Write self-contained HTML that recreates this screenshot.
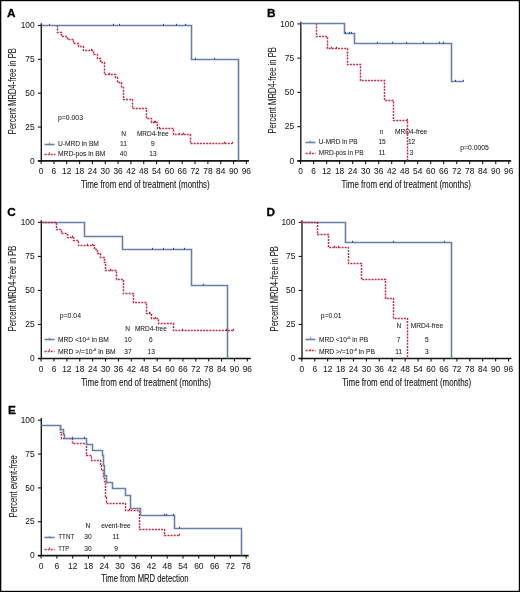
<!DOCTYPE html>
<html><head><meta charset="utf-8"><title>Figure</title>
<style>
html,body{margin:0;padding:0;background:#fff;}
body{width:520px;height:592px;overflow:hidden;}
svg{display:block;will-change:transform;}
svg text{font-family:"Liberation Sans", sans-serif;fill:#1a1a1a;stroke:#1a1a1a;stroke-width:0.05px;}
.t{stroke:#1a1a1a;stroke-width:0.12px;}
.L{stroke:#000;stroke-width:0.3px;fill:#000;}
</style></head>
<body>
<svg width="520" height="592" viewBox="0 0 520 592">
<rect x="0" y="0" width="520" height="592" fill="#fff"/>
<rect x="0" y="0" width="1.3" height="592" fill="#000"/>
<rect x="0" y="0" width="520" height="1.2" fill="#000"/>
<rect x="518.8" y="0" width="1.2" height="592" fill="#000"/>
<rect x="0" y="590.8" width="520" height="1.2" fill="#000"/>
<text x="7.00" y="17.00" font-size="11.8" font-weight="bold" class="L">A</text>
<line x1="41.30" y1="23.30" x2="41.30" y2="161.60" stroke="#161616" stroke-width="1.35"/>
<line x1="37.90" y1="160.90" x2="249.00" y2="160.90" stroke="#161616" stroke-width="1.6"/>
<line x1="37.90" y1="25.50" x2="41.10" y2="25.50" stroke="#161616" stroke-width="1.1"/>
<text x="34.70" y="28.10" font-size="8.4" text-anchor="end" >100</text>
<line x1="37.90" y1="59.35" x2="41.10" y2="59.35" stroke="#161616" stroke-width="1.1"/>
<text x="34.70" y="61.95" font-size="8.4" text-anchor="end" >75</text>
<line x1="37.90" y1="93.20" x2="41.10" y2="93.20" stroke="#161616" stroke-width="1.1"/>
<text x="34.70" y="95.80" font-size="8.4" text-anchor="end" >50</text>
<line x1="37.90" y1="127.05" x2="41.10" y2="127.05" stroke="#161616" stroke-width="1.1"/>
<text x="34.70" y="129.65" font-size="8.4" text-anchor="end" >25</text>
<line x1="37.90" y1="160.90" x2="41.10" y2="160.90" stroke="#161616" stroke-width="1.1"/>
<text x="34.70" y="163.50" font-size="8.4" text-anchor="end" >0</text>
<line x1="41.10" y1="160.90" x2="41.10" y2="163.90" stroke="#161616" stroke-width="1.1"/>
<text x="41.10" y="173.90" font-size="8.4" text-anchor="middle" >0</text>
<line x1="53.93" y1="160.90" x2="53.93" y2="163.90" stroke="#161616" stroke-width="1.1"/>
<text x="53.93" y="173.90" font-size="8.4" text-anchor="middle" >6</text>
<line x1="66.76" y1="160.90" x2="66.76" y2="163.90" stroke="#161616" stroke-width="1.1"/>
<text x="66.76" y="173.90" font-size="8.4" text-anchor="middle" >12</text>
<line x1="79.59" y1="160.90" x2="79.59" y2="163.90" stroke="#161616" stroke-width="1.1"/>
<text x="79.59" y="173.90" font-size="8.4" text-anchor="middle" >18</text>
<line x1="92.42" y1="160.90" x2="92.42" y2="163.90" stroke="#161616" stroke-width="1.1"/>
<text x="92.42" y="173.90" font-size="8.4" text-anchor="middle" >24</text>
<line x1="105.25" y1="160.90" x2="105.25" y2="163.90" stroke="#161616" stroke-width="1.1"/>
<text x="105.25" y="173.90" font-size="8.4" text-anchor="middle" >30</text>
<line x1="118.08" y1="160.90" x2="118.08" y2="163.90" stroke="#161616" stroke-width="1.1"/>
<text x="118.08" y="173.90" font-size="8.4" text-anchor="middle" >36</text>
<line x1="130.91" y1="160.90" x2="130.91" y2="163.90" stroke="#161616" stroke-width="1.1"/>
<text x="130.91" y="173.90" font-size="8.4" text-anchor="middle" >42</text>
<line x1="143.74" y1="160.90" x2="143.74" y2="163.90" stroke="#161616" stroke-width="1.1"/>
<text x="143.74" y="173.90" font-size="8.4" text-anchor="middle" >48</text>
<line x1="156.57" y1="160.90" x2="156.57" y2="163.90" stroke="#161616" stroke-width="1.1"/>
<text x="156.57" y="173.90" font-size="8.4" text-anchor="middle" >54</text>
<line x1="169.40" y1="160.90" x2="169.40" y2="163.90" stroke="#161616" stroke-width="1.1"/>
<text x="169.40" y="173.90" font-size="8.4" text-anchor="middle" >60</text>
<line x1="182.23" y1="160.90" x2="182.23" y2="163.90" stroke="#161616" stroke-width="1.1"/>
<text x="182.23" y="173.90" font-size="8.4" text-anchor="middle" >66</text>
<line x1="195.06" y1="160.90" x2="195.06" y2="163.90" stroke="#161616" stroke-width="1.1"/>
<text x="195.06" y="173.90" font-size="8.4" text-anchor="middle" >72</text>
<line x1="207.89" y1="160.90" x2="207.89" y2="163.90" stroke="#161616" stroke-width="1.1"/>
<text x="207.89" y="173.90" font-size="8.4" text-anchor="middle" >78</text>
<line x1="220.72" y1="160.90" x2="220.72" y2="163.90" stroke="#161616" stroke-width="1.1"/>
<text x="220.72" y="173.90" font-size="8.4" text-anchor="middle" >84</text>
<line x1="233.55" y1="160.90" x2="233.55" y2="163.90" stroke="#161616" stroke-width="1.1"/>
<text x="233.55" y="173.90" font-size="8.4" text-anchor="middle" >90</text>
<line x1="246.38" y1="160.90" x2="246.38" y2="163.90" stroke="#161616" stroke-width="1.1"/>
<text x="246.38" y="173.90" font-size="8.4" text-anchor="middle" >96</text>
<text transform="translate(16.30,91.20) rotate(-90)" x="0" y="0" font-size="10.2" text-anchor="middle" textLength="86.00" lengthAdjust="spacingAndGlyphs">Percent MRD4-free in PB</text>
<text x="80.90" y="187.50" font-size="10.2" textLength="128.80" lengthAdjust="spacingAndGlyphs" class="t">Time from end of treatment (months)</text>
<text x="58.00" y="119.60" font-size="6.6" textLength="25.00" lengthAdjust="spacingAndGlyphs" >p=0.003</text>
<text x="123.60" y="136.20" font-size="6.6" text-anchor="middle" >N</text>
<text x="136.90" y="136.20" font-size="6.6" textLength="31.80" lengthAdjust="spacingAndGlyphs" >MRD4-free</text>
<text x="57.90" y="146.10" font-size="6.6" textLength="41.00" lengthAdjust="spacingAndGlyphs" >U-MRD in BM</text>
<text x="123.40" y="146.10" font-size="6.6" text-anchor="middle" >11</text>
<text x="152.90" y="146.10" font-size="6.6" text-anchor="middle" >9</text>
<text x="57.90" y="155.90" font-size="6.6" textLength="47.60" lengthAdjust="spacingAndGlyphs" >MRD-pos in BM</text>
<text x="123.40" y="155.90" font-size="6.6" text-anchor="middle" >40</text>
<text x="152.90" y="155.90" font-size="6.6" text-anchor="middle" >13</text>
<polyline points="44.50,144.50 54.50,144.50" fill="none" stroke="#6680aa" stroke-width="1.6" stroke-linejoin="miter" stroke-linecap="butt"/>
<line x1="49.45" y1="142.60" x2="49.45" y2="144.60" stroke="#6680aa" stroke-width="0.9"/>
<polyline points="44.50,154.50 55.50,154.50" fill="none" stroke="#be2d4b" stroke-width="1.5" stroke-dasharray="2.0 1.1" stroke-linejoin="miter" stroke-linecap="butt"/>
<line x1="49.55" y1="152.20" x2="49.55" y2="154.20" stroke="#be2d4b" stroke-width="0.9"/>
<polyline points="57.50,25.50 57.50,32.50 61.50,32.50 61.50,36.50 67.50,36.50 67.50,39.50 73.50,39.50 73.50,43.50 78.50,43.50 78.50,46.50 83.50,46.50 83.50,50.50 93.50,50.50 93.50,54.50 97.50,54.50 97.50,58.50 100.50,58.50 100.50,62.50 104.50,62.50 104.50,67.50 104.50,67.50 104.50,74.50 115.50,74.50 115.50,77.50 117.50,77.50 117.50,82.50 121.50,82.50 121.50,87.50 123.50,87.50 123.50,99.50 132.50,99.50 132.50,108.50 146.50,108.50 146.50,118.50 151.50,118.50 151.50,122.50 157.50,122.50 157.50,128.50 173.50,128.50 173.50,134.50 190.50,134.50 190.50,143.50 232.50,143.50" fill="none" stroke="#be2d4b" stroke-width="1.5" stroke-dasharray="2.0 1.1" stroke-linejoin="miter" stroke-linecap="butt"/>
<line x1="49.50" y1="23.80" x2="49.50" y2="25.50" stroke="#a0102f" stroke-width="1.1"/>
<line x1="91.50" y1="48.80" x2="91.50" y2="50.50" stroke="#a0102f" stroke-width="1.1"/>
<line x1="109.50" y1="72.80" x2="109.50" y2="74.50" stroke="#a0102f" stroke-width="1.1"/>
<line x1="154.50" y1="120.80" x2="154.50" y2="122.50" stroke="#a0102f" stroke-width="1.1"/>
<line x1="155.50" y1="120.80" x2="155.50" y2="122.50" stroke="#a0102f" stroke-width="1.1"/>
<line x1="159.50" y1="126.80" x2="159.50" y2="128.50" stroke="#a0102f" stroke-width="1.1"/>
<line x1="179.50" y1="132.80" x2="179.50" y2="134.50" stroke="#a0102f" stroke-width="1.1"/>
<line x1="183.50" y1="132.80" x2="183.50" y2="134.50" stroke="#a0102f" stroke-width="1.1"/>
<line x1="224.50" y1="141.80" x2="224.50" y2="143.50" stroke="#a0102f" stroke-width="1.1"/>
<line x1="232.50" y1="141.80" x2="232.50" y2="143.50" stroke="#a0102f" stroke-width="1.1"/>
<polyline points="41.50,25.50 191.50,25.50 191.50,59.50 238.50,59.50 238.50,160.50" fill="none" stroke="#6680aa" stroke-width="1.6" stroke-linejoin="miter" stroke-linecap="butt"/>
<line x1="113.50" y1="23.80" x2="113.50" y2="25.50" stroke="#2b4580" stroke-width="1.1"/>
<line x1="119.50" y1="23.80" x2="119.50" y2="25.50" stroke="#2b4580" stroke-width="1.1"/>
<line x1="163.50" y1="23.80" x2="163.50" y2="25.50" stroke="#2b4580" stroke-width="1.1"/>
<line x1="176.50" y1="23.80" x2="176.50" y2="25.50" stroke="#2b4580" stroke-width="1.1"/>
<line x1="185.50" y1="23.80" x2="185.50" y2="25.50" stroke="#2b4580" stroke-width="1.1"/>
<line x1="195.50" y1="57.80" x2="195.50" y2="59.50" stroke="#2b4580" stroke-width="1.1"/>
<line x1="214.50" y1="57.80" x2="214.50" y2="59.50" stroke="#2b4580" stroke-width="1.1"/>
<text x="266.90" y="17.00" font-size="11.8" font-weight="bold" class="L">B</text>
<line x1="300.80" y1="21.70" x2="300.80" y2="161.60" stroke="#161616" stroke-width="1.35"/>
<line x1="297.40" y1="160.90" x2="511.20" y2="160.90" stroke="#161616" stroke-width="1.6"/>
<line x1="297.40" y1="23.90" x2="300.60" y2="23.90" stroke="#161616" stroke-width="1.1"/>
<text x="294.20" y="26.50" font-size="8.4" text-anchor="end" >100</text>
<line x1="297.40" y1="58.15" x2="300.60" y2="58.15" stroke="#161616" stroke-width="1.1"/>
<text x="294.20" y="60.75" font-size="8.4" text-anchor="end" >75</text>
<line x1="297.40" y1="92.40" x2="300.60" y2="92.40" stroke="#161616" stroke-width="1.1"/>
<text x="294.20" y="95.00" font-size="8.4" text-anchor="end" >50</text>
<line x1="297.40" y1="126.65" x2="300.60" y2="126.65" stroke="#161616" stroke-width="1.1"/>
<text x="294.20" y="129.25" font-size="8.4" text-anchor="end" >25</text>
<line x1="297.40" y1="160.90" x2="300.60" y2="160.90" stroke="#161616" stroke-width="1.1"/>
<text x="294.20" y="163.50" font-size="8.4" text-anchor="end" >0</text>
<line x1="300.60" y1="160.90" x2="300.60" y2="163.90" stroke="#161616" stroke-width="1.1"/>
<text x="300.60" y="173.90" font-size="8.4" text-anchor="middle" >0</text>
<line x1="313.61" y1="160.90" x2="313.61" y2="163.90" stroke="#161616" stroke-width="1.1"/>
<text x="313.61" y="173.90" font-size="8.4" text-anchor="middle" >6</text>
<line x1="326.62" y1="160.90" x2="326.62" y2="163.90" stroke="#161616" stroke-width="1.1"/>
<text x="326.62" y="173.90" font-size="8.4" text-anchor="middle" >12</text>
<line x1="339.63" y1="160.90" x2="339.63" y2="163.90" stroke="#161616" stroke-width="1.1"/>
<text x="339.63" y="173.90" font-size="8.4" text-anchor="middle" >18</text>
<line x1="352.64" y1="160.90" x2="352.64" y2="163.90" stroke="#161616" stroke-width="1.1"/>
<text x="352.64" y="173.90" font-size="8.4" text-anchor="middle" >24</text>
<line x1="365.65" y1="160.90" x2="365.65" y2="163.90" stroke="#161616" stroke-width="1.1"/>
<text x="365.65" y="173.90" font-size="8.4" text-anchor="middle" >30</text>
<line x1="378.66" y1="160.90" x2="378.66" y2="163.90" stroke="#161616" stroke-width="1.1"/>
<text x="378.66" y="173.90" font-size="8.4" text-anchor="middle" >36</text>
<line x1="391.67" y1="160.90" x2="391.67" y2="163.90" stroke="#161616" stroke-width="1.1"/>
<text x="391.67" y="173.90" font-size="8.4" text-anchor="middle" >42</text>
<line x1="404.68" y1="160.90" x2="404.68" y2="163.90" stroke="#161616" stroke-width="1.1"/>
<text x="404.68" y="173.90" font-size="8.4" text-anchor="middle" >48</text>
<line x1="417.69" y1="160.90" x2="417.69" y2="163.90" stroke="#161616" stroke-width="1.1"/>
<text x="417.69" y="173.90" font-size="8.4" text-anchor="middle" >54</text>
<line x1="430.70" y1="160.90" x2="430.70" y2="163.90" stroke="#161616" stroke-width="1.1"/>
<text x="430.70" y="173.90" font-size="8.4" text-anchor="middle" >60</text>
<line x1="443.71" y1="160.90" x2="443.71" y2="163.90" stroke="#161616" stroke-width="1.1"/>
<text x="443.71" y="173.90" font-size="8.4" text-anchor="middle" >66</text>
<line x1="456.72" y1="160.90" x2="456.72" y2="163.90" stroke="#161616" stroke-width="1.1"/>
<text x="456.72" y="173.90" font-size="8.4" text-anchor="middle" >72</text>
<line x1="469.73" y1="160.90" x2="469.73" y2="163.90" stroke="#161616" stroke-width="1.1"/>
<text x="469.73" y="173.90" font-size="8.4" text-anchor="middle" >78</text>
<line x1="482.74" y1="160.90" x2="482.74" y2="163.90" stroke="#161616" stroke-width="1.1"/>
<text x="482.74" y="173.90" font-size="8.4" text-anchor="middle" >84</text>
<line x1="495.75" y1="160.90" x2="495.75" y2="163.90" stroke="#161616" stroke-width="1.1"/>
<text x="495.75" y="173.90" font-size="8.4" text-anchor="middle" >90</text>
<line x1="508.76" y1="160.90" x2="508.76" y2="163.90" stroke="#161616" stroke-width="1.1"/>
<text x="508.76" y="173.90" font-size="8.4" text-anchor="middle" >96</text>
<text transform="translate(275.80,90.30) rotate(-90)" x="0" y="0" font-size="10.2" text-anchor="middle" textLength="86.50" lengthAdjust="spacingAndGlyphs">Percent MRD4-free in PB</text>
<text x="341.50" y="187.50" font-size="10.2" textLength="129.30" lengthAdjust="spacingAndGlyphs" class="t">Time from end of treatment (months)</text>
<text x="460.30" y="150.40" font-size="6.6" textLength="28.60" lengthAdjust="spacingAndGlyphs" >p=0.0005</text>
<text x="381.70" y="134.00" font-size="6.6" text-anchor="middle" >n</text>
<text x="395.00" y="134.00" font-size="6.6" textLength="32.30" lengthAdjust="spacingAndGlyphs" >MRD4-free</text>
<text x="318.80" y="143.50" font-size="6.6" textLength="38.90" lengthAdjust="spacingAndGlyphs" >U-MRD in PB</text>
<text x="382.10" y="143.50" font-size="6.6" text-anchor="middle" >15</text>
<text x="411.60" y="143.50" font-size="6.6" text-anchor="middle" >12</text>
<text x="318.80" y="154.80" font-size="6.6" textLength="44.70" lengthAdjust="spacingAndGlyphs" >MRD-pos in PB</text>
<text x="382.00" y="154.80" font-size="6.6" text-anchor="middle" >11</text>
<text x="411.30" y="154.80" font-size="6.6" text-anchor="middle" >3</text>
<polyline points="305.50,142.50 315.50,142.50" fill="none" stroke="#6680aa" stroke-width="1.6" stroke-linejoin="miter" stroke-linecap="butt"/>
<line x1="310.40" y1="140.40" x2="310.40" y2="142.40" stroke="#6680aa" stroke-width="0.9"/>
<polyline points="305.50,153.50 315.50,153.50" fill="none" stroke="#be2d4b" stroke-width="1.5" stroke-dasharray="2.0 1.1" stroke-linejoin="miter" stroke-linecap="butt"/>
<line x1="310.40" y1="151.10" x2="310.40" y2="153.10" stroke="#be2d4b" stroke-width="0.9"/>
<polyline points="316.50,23.50 316.50,36.50 327.50,36.50 327.50,48.50 347.50,48.50 347.50,64.50 360.50,64.50 360.50,80.50 384.50,80.50 384.50,100.50 393.50,100.50 393.50,120.50 407.50,120.50 407.50,160.50" fill="none" stroke="#be2d4b" stroke-width="1.5" stroke-dasharray="2.0 1.1" stroke-linejoin="miter" stroke-linecap="butt"/>
<line x1="331.50" y1="46.80" x2="331.50" y2="48.50" stroke="#a0102f" stroke-width="1.1"/>
<line x1="336.50" y1="46.80" x2="336.50" y2="48.50" stroke="#a0102f" stroke-width="1.1"/>
<line x1="407.50" y1="118.80" x2="407.50" y2="120.50" stroke="#a0102f" stroke-width="1.1"/>
<polyline points="300.50,23.50 344.50,23.50 344.50,33.50 354.50,33.50 354.50,43.50 451.50,43.50 451.50,81.50 463.50,81.50" fill="none" stroke="#6680aa" stroke-width="1.6" stroke-linejoin="miter" stroke-linecap="butt"/>
<line x1="345.50" y1="31.80" x2="345.50" y2="33.50" stroke="#2b4580" stroke-width="1.1"/>
<line x1="349.50" y1="31.80" x2="349.50" y2="33.50" stroke="#2b4580" stroke-width="1.1"/>
<line x1="351.50" y1="31.80" x2="351.50" y2="33.50" stroke="#2b4580" stroke-width="1.1"/>
<line x1="377.50" y1="41.80" x2="377.50" y2="43.50" stroke="#2b4580" stroke-width="1.1"/>
<line x1="392.50" y1="41.80" x2="392.50" y2="43.50" stroke="#2b4580" stroke-width="1.1"/>
<line x1="406.50" y1="41.80" x2="406.50" y2="43.50" stroke="#2b4580" stroke-width="1.1"/>
<line x1="423.50" y1="41.80" x2="423.50" y2="43.50" stroke="#2b4580" stroke-width="1.1"/>
<line x1="439.50" y1="41.80" x2="439.50" y2="43.50" stroke="#2b4580" stroke-width="1.1"/>
<line x1="443.50" y1="41.80" x2="443.50" y2="43.50" stroke="#2b4580" stroke-width="1.1"/>
<line x1="455.50" y1="79.80" x2="455.50" y2="81.50" stroke="#2b4580" stroke-width="1.1"/>
<line x1="463.50" y1="79.80" x2="463.50" y2="81.50" stroke="#2b4580" stroke-width="1.1"/>
<text x="7.30" y="215.80" font-size="11.8" font-weight="bold" class="L">C</text>
<line x1="41.30" y1="220.20" x2="41.30" y2="359.20" stroke="#161616" stroke-width="1.35"/>
<line x1="37.90" y1="358.50" x2="250.80" y2="358.50" stroke="#161616" stroke-width="1.6"/>
<line x1="37.90" y1="222.40" x2="41.10" y2="222.40" stroke="#161616" stroke-width="1.1"/>
<text x="34.70" y="225.00" font-size="8.4" text-anchor="end" >100</text>
<line x1="37.90" y1="256.43" x2="41.10" y2="256.43" stroke="#161616" stroke-width="1.1"/>
<text x="34.70" y="259.03" font-size="8.4" text-anchor="end" >75</text>
<line x1="37.90" y1="290.45" x2="41.10" y2="290.45" stroke="#161616" stroke-width="1.1"/>
<text x="34.70" y="293.05" font-size="8.4" text-anchor="end" >50</text>
<line x1="37.90" y1="324.48" x2="41.10" y2="324.48" stroke="#161616" stroke-width="1.1"/>
<text x="34.70" y="327.08" font-size="8.4" text-anchor="end" >25</text>
<line x1="37.90" y1="358.50" x2="41.10" y2="358.50" stroke="#161616" stroke-width="1.1"/>
<text x="34.70" y="361.10" font-size="8.4" text-anchor="end" >0</text>
<line x1="41.10" y1="358.50" x2="41.10" y2="361.50" stroke="#161616" stroke-width="1.1"/>
<text x="41.10" y="371.50" font-size="8.4" text-anchor="middle" >0</text>
<line x1="53.99" y1="358.50" x2="53.99" y2="361.50" stroke="#161616" stroke-width="1.1"/>
<text x="53.99" y="371.50" font-size="8.4" text-anchor="middle" >6</text>
<line x1="66.88" y1="358.50" x2="66.88" y2="361.50" stroke="#161616" stroke-width="1.1"/>
<text x="66.88" y="371.50" font-size="8.4" text-anchor="middle" >12</text>
<line x1="79.77" y1="358.50" x2="79.77" y2="361.50" stroke="#161616" stroke-width="1.1"/>
<text x="79.77" y="371.50" font-size="8.4" text-anchor="middle" >18</text>
<line x1="92.66" y1="358.50" x2="92.66" y2="361.50" stroke="#161616" stroke-width="1.1"/>
<text x="92.66" y="371.50" font-size="8.4" text-anchor="middle" >24</text>
<line x1="105.55" y1="358.50" x2="105.55" y2="361.50" stroke="#161616" stroke-width="1.1"/>
<text x="105.55" y="371.50" font-size="8.4" text-anchor="middle" >30</text>
<line x1="118.44" y1="358.50" x2="118.44" y2="361.50" stroke="#161616" stroke-width="1.1"/>
<text x="118.44" y="371.50" font-size="8.4" text-anchor="middle" >36</text>
<line x1="131.33" y1="358.50" x2="131.33" y2="361.50" stroke="#161616" stroke-width="1.1"/>
<text x="131.33" y="371.50" font-size="8.4" text-anchor="middle" >42</text>
<line x1="144.22" y1="358.50" x2="144.22" y2="361.50" stroke="#161616" stroke-width="1.1"/>
<text x="144.22" y="371.50" font-size="8.4" text-anchor="middle" >48</text>
<line x1="157.11" y1="358.50" x2="157.11" y2="361.50" stroke="#161616" stroke-width="1.1"/>
<text x="157.11" y="371.50" font-size="8.4" text-anchor="middle" >54</text>
<line x1="170.00" y1="358.50" x2="170.00" y2="361.50" stroke="#161616" stroke-width="1.1"/>
<text x="170.00" y="371.50" font-size="8.4" text-anchor="middle" >60</text>
<line x1="182.89" y1="358.50" x2="182.89" y2="361.50" stroke="#161616" stroke-width="1.1"/>
<text x="182.89" y="371.50" font-size="8.4" text-anchor="middle" >66</text>
<line x1="195.78" y1="358.50" x2="195.78" y2="361.50" stroke="#161616" stroke-width="1.1"/>
<text x="195.78" y="371.50" font-size="8.4" text-anchor="middle" >72</text>
<line x1="208.67" y1="358.50" x2="208.67" y2="361.50" stroke="#161616" stroke-width="1.1"/>
<text x="208.67" y="371.50" font-size="8.4" text-anchor="middle" >78</text>
<line x1="221.56" y1="358.50" x2="221.56" y2="361.50" stroke="#161616" stroke-width="1.1"/>
<text x="221.56" y="371.50" font-size="8.4" text-anchor="middle" >84</text>
<line x1="234.45" y1="358.50" x2="234.45" y2="361.50" stroke="#161616" stroke-width="1.1"/>
<text x="234.45" y="371.50" font-size="8.4" text-anchor="middle" >90</text>
<line x1="247.34" y1="358.50" x2="247.34" y2="361.50" stroke="#161616" stroke-width="1.1"/>
<text x="247.34" y="371.50" font-size="8.4" text-anchor="middle" >96</text>
<text transform="translate(16.30,288.50) rotate(-90)" x="0" y="0" font-size="10.2" text-anchor="middle" textLength="85.70" lengthAdjust="spacingAndGlyphs">Percent MRD4-free in PB</text>
<text x="81.20" y="386.20" font-size="10.2" textLength="129.60" lengthAdjust="spacingAndGlyphs" class="t">Time from end of treatment (months)</text>
<text x="59.80" y="317.80" font-size="6.6" textLength="21.20" lengthAdjust="spacingAndGlyphs" >p=0.04</text>
<text x="127.60" y="330.70" font-size="6.6" text-anchor="middle" >N</text>
<text x="134.90" y="330.70" font-size="6.6" textLength="32.00" lengthAdjust="spacingAndGlyphs" >MRD4-free</text>
<text x="57.90" y="342.20" font-size="6.6" textLength="50.80" lengthAdjust="spacingAndGlyphs" >MRD &lt;10<tspan font-size="4" dy="-2.6">-6</tspan><tspan dy="2.6"> in BM</tspan></text>
<text x="128.00" y="342.20" font-size="6.6" text-anchor="middle" >10</text>
<text x="150.80" y="342.20" font-size="6.6" text-anchor="middle" >6</text>
<text x="57.90" y="353.60" font-size="6.6" textLength="57.70" lengthAdjust="spacingAndGlyphs" >MRD &gt;/=10<tspan font-size="4" dy="-2.6">-6</tspan><tspan dy="2.6"> in BM</tspan></text>
<text x="128.00" y="353.60" font-size="6.6" text-anchor="middle" >37</text>
<text x="151.20" y="353.60" font-size="6.6" text-anchor="middle" >13</text>
<polyline points="44.50,339.50 54.50,339.50" fill="none" stroke="#6680aa" stroke-width="1.6" stroke-linejoin="miter" stroke-linecap="butt"/>
<line x1="49.40" y1="337.40" x2="49.40" y2="339.40" stroke="#6680aa" stroke-width="0.9"/>
<polyline points="44.50,351.50 54.50,351.50" fill="none" stroke="#be2d4b" stroke-width="1.5" stroke-dasharray="2.0 1.1" stroke-linejoin="miter" stroke-linecap="butt"/>
<line x1="49.40" y1="349.00" x2="49.40" y2="351.00" stroke="#be2d4b" stroke-width="0.9"/>
<polyline points="41.50,222.50 84.50,222.50 84.50,236.50 122.50,236.50 122.50,249.50 191.50,249.50 191.50,285.50 227.50,285.50 227.50,358.50" fill="none" stroke="#6680aa" stroke-width="1.6" stroke-linejoin="miter" stroke-linecap="butt"/>
<line x1="152.50" y1="247.80" x2="152.50" y2="249.50" stroke="#2b4580" stroke-width="1.1"/>
<line x1="163.50" y1="247.80" x2="163.50" y2="249.50" stroke="#2b4580" stroke-width="1.1"/>
<line x1="173.50" y1="247.80" x2="173.50" y2="249.50" stroke="#2b4580" stroke-width="1.1"/>
<line x1="184.50" y1="247.80" x2="184.50" y2="249.50" stroke="#2b4580" stroke-width="1.1"/>
<line x1="203.50" y1="283.80" x2="203.50" y2="285.50" stroke="#2b4580" stroke-width="1.1"/>
<polyline points="41.50,222.50 56.50,222.50 56.50,229.50 61.50,229.50 61.50,233.50 67.50,233.50 67.50,237.50 73.50,237.50 73.50,240.50 78.50,240.50 78.50,245.50 94.50,245.50 94.50,249.50 97.50,249.50 97.50,253.50 100.50,253.50 100.50,257.50 104.50,257.50 104.50,262.50 105.50,262.50 105.50,270.50 116.50,270.50 116.50,279.50 123.50,279.50 123.50,293.50 133.50,293.50 133.50,302.50 146.50,302.50 146.50,313.50 151.50,313.50 151.50,318.50 158.50,318.50 158.50,323.50 173.50,323.50 173.50,330.50 233.50,330.50" fill="none" stroke="#be2d4b" stroke-width="1.5" stroke-dasharray="2.0 1.1" stroke-linejoin="miter" stroke-linecap="butt"/>
<line x1="72.50" y1="235.80" x2="72.50" y2="237.50" stroke="#a0102f" stroke-width="1.1"/>
<line x1="87.50" y1="243.80" x2="87.50" y2="245.50" stroke="#a0102f" stroke-width="1.1"/>
<line x1="92.50" y1="243.80" x2="92.50" y2="245.50" stroke="#a0102f" stroke-width="1.1"/>
<line x1="110.50" y1="268.80" x2="110.50" y2="270.50" stroke="#a0102f" stroke-width="1.1"/>
<line x1="149.50" y1="311.80" x2="149.50" y2="313.50" stroke="#a0102f" stroke-width="1.1"/>
<line x1="155.50" y1="316.80" x2="155.50" y2="318.50" stroke="#a0102f" stroke-width="1.1"/>
<line x1="182.50" y1="328.80" x2="182.50" y2="330.50" stroke="#a0102f" stroke-width="1.1"/>
<line x1="226.50" y1="328.80" x2="226.50" y2="330.50" stroke="#a0102f" stroke-width="1.1"/>
<line x1="233.50" y1="328.80" x2="233.50" y2="330.50" stroke="#a0102f" stroke-width="1.1"/>
<text x="266.60" y="215.80" font-size="11.8" font-weight="bold" class="L">D</text>
<line x1="302.00" y1="220.20" x2="302.00" y2="359.20" stroke="#161616" stroke-width="1.35"/>
<line x1="298.60" y1="358.50" x2="511.30" y2="358.50" stroke="#161616" stroke-width="1.6"/>
<line x1="298.60" y1="222.40" x2="301.80" y2="222.40" stroke="#161616" stroke-width="1.1"/>
<text x="295.40" y="225.00" font-size="8.4" text-anchor="end" >100</text>
<line x1="298.60" y1="256.43" x2="301.80" y2="256.43" stroke="#161616" stroke-width="1.1"/>
<text x="295.40" y="259.03" font-size="8.4" text-anchor="end" >75</text>
<line x1="298.60" y1="290.45" x2="301.80" y2="290.45" stroke="#161616" stroke-width="1.1"/>
<text x="295.40" y="293.05" font-size="8.4" text-anchor="end" >50</text>
<line x1="298.60" y1="324.48" x2="301.80" y2="324.48" stroke="#161616" stroke-width="1.1"/>
<text x="295.40" y="327.08" font-size="8.4" text-anchor="end" >25</text>
<line x1="298.60" y1="358.50" x2="301.80" y2="358.50" stroke="#161616" stroke-width="1.1"/>
<text x="295.40" y="361.10" font-size="8.4" text-anchor="end" >0</text>
<line x1="301.80" y1="358.50" x2="301.80" y2="361.50" stroke="#161616" stroke-width="1.1"/>
<text x="301.80" y="371.50" font-size="8.4" text-anchor="middle" >0</text>
<line x1="314.72" y1="358.50" x2="314.72" y2="361.50" stroke="#161616" stroke-width="1.1"/>
<text x="314.72" y="371.50" font-size="8.4" text-anchor="middle" >6</text>
<line x1="327.64" y1="358.50" x2="327.64" y2="361.50" stroke="#161616" stroke-width="1.1"/>
<text x="327.64" y="371.50" font-size="8.4" text-anchor="middle" >12</text>
<line x1="340.56" y1="358.50" x2="340.56" y2="361.50" stroke="#161616" stroke-width="1.1"/>
<text x="340.56" y="371.50" font-size="8.4" text-anchor="middle" >18</text>
<line x1="353.48" y1="358.50" x2="353.48" y2="361.50" stroke="#161616" stroke-width="1.1"/>
<text x="353.48" y="371.50" font-size="8.4" text-anchor="middle" >24</text>
<line x1="366.40" y1="358.50" x2="366.40" y2="361.50" stroke="#161616" stroke-width="1.1"/>
<text x="366.40" y="371.50" font-size="8.4" text-anchor="middle" >30</text>
<line x1="379.32" y1="358.50" x2="379.32" y2="361.50" stroke="#161616" stroke-width="1.1"/>
<text x="379.32" y="371.50" font-size="8.4" text-anchor="middle" >36</text>
<line x1="392.24" y1="358.50" x2="392.24" y2="361.50" stroke="#161616" stroke-width="1.1"/>
<text x="392.24" y="371.50" font-size="8.4" text-anchor="middle" >42</text>
<line x1="405.16" y1="358.50" x2="405.16" y2="361.50" stroke="#161616" stroke-width="1.1"/>
<text x="405.16" y="371.50" font-size="8.4" text-anchor="middle" >48</text>
<line x1="418.08" y1="358.50" x2="418.08" y2="361.50" stroke="#161616" stroke-width="1.1"/>
<text x="418.08" y="371.50" font-size="8.4" text-anchor="middle" >54</text>
<line x1="431.00" y1="358.50" x2="431.00" y2="361.50" stroke="#161616" stroke-width="1.1"/>
<text x="431.00" y="371.50" font-size="8.4" text-anchor="middle" >60</text>
<line x1="443.92" y1="358.50" x2="443.92" y2="361.50" stroke="#161616" stroke-width="1.1"/>
<text x="443.92" y="371.50" font-size="8.4" text-anchor="middle" >66</text>
<line x1="456.84" y1="358.50" x2="456.84" y2="361.50" stroke="#161616" stroke-width="1.1"/>
<text x="456.84" y="371.50" font-size="8.4" text-anchor="middle" >72</text>
<line x1="469.76" y1="358.50" x2="469.76" y2="361.50" stroke="#161616" stroke-width="1.1"/>
<text x="469.76" y="371.50" font-size="8.4" text-anchor="middle" >78</text>
<line x1="482.68" y1="358.50" x2="482.68" y2="361.50" stroke="#161616" stroke-width="1.1"/>
<text x="482.68" y="371.50" font-size="8.4" text-anchor="middle" >84</text>
<line x1="495.60" y1="358.50" x2="495.60" y2="361.50" stroke="#161616" stroke-width="1.1"/>
<text x="495.60" y="371.50" font-size="8.4" text-anchor="middle" >90</text>
<line x1="508.52" y1="358.50" x2="508.52" y2="361.50" stroke="#161616" stroke-width="1.1"/>
<text x="508.52" y="371.50" font-size="8.4" text-anchor="middle" >96</text>
<text transform="translate(277.60,288.80) rotate(-90)" x="0" y="0" font-size="10.2" text-anchor="middle" textLength="85.20" lengthAdjust="spacingAndGlyphs">Percent MRD4-free in PB</text>
<text x="342.30" y="386.20" font-size="10.2" textLength="128.90" lengthAdjust="spacingAndGlyphs" class="t">Time from end of treatment (months)</text>
<text x="320.80" y="317.60" font-size="6.6" textLength="20.70" lengthAdjust="spacingAndGlyphs" >p=0.01</text>
<text x="398.80" y="327.60" font-size="6.6" text-anchor="middle" >N</text>
<text x="410.80" y="327.60" font-size="6.6" textLength="32.30" lengthAdjust="spacingAndGlyphs" >MRD4-free</text>
<text x="318.90" y="342.00" font-size="6.6" textLength="49.20" lengthAdjust="spacingAndGlyphs" >MRD &lt;10<tspan font-size="4" dy="-2.6">-6</tspan><tspan dy="2.6"> in PB</tspan></text>
<text x="398.70" y="342.00" font-size="6.6" text-anchor="middle" >7</text>
<text x="426.90" y="342.00" font-size="6.6" text-anchor="middle" >5</text>
<text x="318.90" y="353.50" font-size="6.6" textLength="56.10" lengthAdjust="spacingAndGlyphs" >MRD &gt;/=10<tspan font-size="4" dy="-2.6">-6</tspan><tspan dy="2.6"> in PB</tspan></text>
<text x="398.70" y="353.50" font-size="6.6" text-anchor="middle" >11</text>
<text x="426.90" y="353.50" font-size="6.6" text-anchor="middle" >3</text>
<polyline points="305.50,339.50 315.50,339.50" fill="none" stroke="#6680aa" stroke-width="1.6" stroke-linejoin="miter" stroke-linecap="butt"/>
<line x1="310.50" y1="337.00" x2="310.50" y2="339.00" stroke="#6680aa" stroke-width="0.9"/>
<polyline points="305.50,350.50 315.50,350.50" fill="none" stroke="#be2d4b" stroke-width="1.5" stroke-dasharray="2.0 1.1" stroke-linejoin="miter" stroke-linecap="butt"/>
<line x1="310.50" y1="348.90" x2="310.50" y2="350.90" stroke="#be2d4b" stroke-width="0.9"/>
<polyline points="301.50,222.50 345.50,222.50 345.50,242.50 451.50,242.50 451.50,358.50" fill="none" stroke="#6680aa" stroke-width="1.6" stroke-linejoin="miter" stroke-linecap="butt"/>
<line x1="352.50" y1="240.80" x2="352.50" y2="242.50" stroke="#2b4580" stroke-width="1.1"/>
<line x1="393.50" y1="240.80" x2="393.50" y2="242.50" stroke="#2b4580" stroke-width="1.1"/>
<line x1="444.50" y1="240.80" x2="444.50" y2="242.50" stroke="#2b4580" stroke-width="1.1"/>
<polyline points="301.50,222.50 317.50,222.50 317.50,234.50 328.50,234.50 328.50,247.50 348.50,247.50 348.50,263.50 361.50,263.50 361.50,279.50 385.50,279.50 385.50,298.50 393.50,298.50 393.50,318.50 407.50,318.50 407.50,358.50" fill="none" stroke="#be2d4b" stroke-width="1.5" stroke-dasharray="2.0 1.1" stroke-linejoin="miter" stroke-linecap="butt"/>
<line x1="334.50" y1="245.80" x2="334.50" y2="247.50" stroke="#a0102f" stroke-width="1.1"/>
<line x1="338.50" y1="245.80" x2="338.50" y2="247.50" stroke="#a0102f" stroke-width="1.1"/>
<text x="7.90" y="413.80" font-size="11.8" font-weight="bold" class="L">E</text>
<line x1="41.30" y1="418.00" x2="41.30" y2="556.30" stroke="#161616" stroke-width="1.35"/>
<line x1="37.90" y1="555.60" x2="248.70" y2="555.60" stroke="#161616" stroke-width="1.6"/>
<line x1="37.90" y1="420.20" x2="41.10" y2="420.20" stroke="#161616" stroke-width="1.1"/>
<text x="34.70" y="422.80" font-size="8.4" text-anchor="end" >100</text>
<line x1="37.90" y1="454.05" x2="41.10" y2="454.05" stroke="#161616" stroke-width="1.1"/>
<text x="34.70" y="456.65" font-size="8.4" text-anchor="end" >75</text>
<line x1="37.90" y1="487.90" x2="41.10" y2="487.90" stroke="#161616" stroke-width="1.1"/>
<text x="34.70" y="490.50" font-size="8.4" text-anchor="end" >50</text>
<line x1="37.90" y1="521.75" x2="41.10" y2="521.75" stroke="#161616" stroke-width="1.1"/>
<text x="34.70" y="524.35" font-size="8.4" text-anchor="end" >25</text>
<line x1="37.90" y1="555.60" x2="41.10" y2="555.60" stroke="#161616" stroke-width="1.1"/>
<text x="34.70" y="558.20" font-size="8.4" text-anchor="end" >0</text>
<line x1="41.10" y1="555.60" x2="41.10" y2="558.60" stroke="#161616" stroke-width="1.1"/>
<text x="41.10" y="568.60" font-size="8.4" text-anchor="middle" >0</text>
<line x1="56.87" y1="555.60" x2="56.87" y2="558.60" stroke="#161616" stroke-width="1.1"/>
<text x="56.87" y="568.60" font-size="8.4" text-anchor="middle" >6</text>
<line x1="72.64" y1="555.60" x2="72.64" y2="558.60" stroke="#161616" stroke-width="1.1"/>
<text x="72.64" y="568.60" font-size="8.4" text-anchor="middle" >12</text>
<line x1="88.41" y1="555.60" x2="88.41" y2="558.60" stroke="#161616" stroke-width="1.1"/>
<text x="88.41" y="568.60" font-size="8.4" text-anchor="middle" >18</text>
<line x1="104.18" y1="555.60" x2="104.18" y2="558.60" stroke="#161616" stroke-width="1.1"/>
<text x="104.18" y="568.60" font-size="8.4" text-anchor="middle" >24</text>
<line x1="119.95" y1="555.60" x2="119.95" y2="558.60" stroke="#161616" stroke-width="1.1"/>
<text x="119.95" y="568.60" font-size="8.4" text-anchor="middle" >30</text>
<line x1="135.72" y1="555.60" x2="135.72" y2="558.60" stroke="#161616" stroke-width="1.1"/>
<text x="135.72" y="568.60" font-size="8.4" text-anchor="middle" >36</text>
<line x1="151.49" y1="555.60" x2="151.49" y2="558.60" stroke="#161616" stroke-width="1.1"/>
<text x="151.49" y="568.60" font-size="8.4" text-anchor="middle" >42</text>
<line x1="167.26" y1="555.60" x2="167.26" y2="558.60" stroke="#161616" stroke-width="1.1"/>
<text x="167.26" y="568.60" font-size="8.4" text-anchor="middle" >48</text>
<line x1="183.03" y1="555.60" x2="183.03" y2="558.60" stroke="#161616" stroke-width="1.1"/>
<text x="183.03" y="568.60" font-size="8.4" text-anchor="middle" >54</text>
<line x1="198.80" y1="555.60" x2="198.80" y2="558.60" stroke="#161616" stroke-width="1.1"/>
<text x="198.80" y="568.60" font-size="8.4" text-anchor="middle" >60</text>
<line x1="214.57" y1="555.60" x2="214.57" y2="558.60" stroke="#161616" stroke-width="1.1"/>
<text x="214.57" y="568.60" font-size="8.4" text-anchor="middle" >66</text>
<line x1="230.34" y1="555.60" x2="230.34" y2="558.60" stroke="#161616" stroke-width="1.1"/>
<text x="230.34" y="568.60" font-size="8.4" text-anchor="middle" >72</text>
<line x1="246.11" y1="555.60" x2="246.11" y2="558.60" stroke="#161616" stroke-width="1.1"/>
<text x="246.11" y="568.60" font-size="8.4" text-anchor="middle" >78</text>
<text transform="translate(16.60,486.40) rotate(-90)" x="0" y="0" font-size="10.2" text-anchor="middle" textLength="62.30" lengthAdjust="spacingAndGlyphs">Percent event-free</text>
<text x="101.20" y="582.20" font-size="10.2" textLength="87.30" lengthAdjust="spacingAndGlyphs" class="t">Time from MRD detection</text>
<text x="88.00" y="527.90" font-size="6.6" text-anchor="middle" >N</text>
<text x="101.20" y="527.90" font-size="6.6" textLength="29.60" lengthAdjust="spacingAndGlyphs" >event-free</text>
<text x="58.30" y="539.40" font-size="6.6" textLength="15.90" lengthAdjust="spacingAndGlyphs" >TTNT</text>
<text x="88.00" y="539.40" font-size="6.6" text-anchor="middle" >30</text>
<text x="116.00" y="539.40" font-size="6.6" text-anchor="middle" >11</text>
<text x="58.30" y="551.00" font-size="6.6" textLength="10.90" lengthAdjust="spacingAndGlyphs" >TTP</text>
<text x="88.00" y="551.00" font-size="6.6" text-anchor="middle" >30</text>
<text x="116.00" y="551.00" font-size="6.6" text-anchor="middle" >9</text>
<polyline points="44.50,537.50 54.50,537.50" fill="none" stroke="#6680aa" stroke-width="1.6" stroke-linejoin="miter" stroke-linecap="butt"/>
<line x1="49.45" y1="535.80" x2="49.45" y2="537.80" stroke="#6680aa" stroke-width="0.9"/>
<polyline points="44.50,549.50 54.50,549.50" fill="none" stroke="#be2d4b" stroke-width="1.5" stroke-dasharray="2.0 1.1" stroke-linejoin="miter" stroke-linecap="butt"/>
<line x1="49.45" y1="547.30" x2="49.45" y2="549.30" stroke="#be2d4b" stroke-width="0.9"/>
<polyline points="60.50,425.50 60.50,432.50 61.50,432.50 61.50,438.50 72.50,438.50 72.50,443.50 86.50,443.50 86.50,455.50 91.50,455.50 91.50,460.50 100.50,460.50 100.50,465.50 101.50,465.50 101.50,470.50 103.50,470.50 103.50,476.50 104.50,476.50 104.50,481.50 105.50,481.50 105.50,497.50 106.50,497.50 106.50,503.50 125.50,503.50 125.50,510.50 139.50,510.50 139.50,529.50 164.50,529.50 164.50,535.50 179.50,535.50" fill="none" stroke="#be2d4b" stroke-width="1.5" stroke-dasharray="2.0 1.1" stroke-linejoin="miter" stroke-linecap="butt"/>
<polyline points="41.50,425.50 60.50,425.50 60.50,429.50 63.50,429.50 63.50,434.50 64.50,434.50 64.50,438.50 86.50,438.50 86.50,444.50 92.50,444.50 92.50,450.50 102.50,450.50 102.50,455.50 103.50,455.50 103.50,465.50 104.50,465.50 104.50,475.50 106.50,475.50 106.50,482.50 112.50,482.50 112.50,488.50 125.50,488.50 125.50,495.50 130.50,495.50 130.50,502.50 130.50,502.50 130.50,508.50 140.50,508.50 140.50,515.50 174.50,515.50 174.50,528.50 241.50,528.50 241.50,555.50" fill="none" stroke="#6680aa" stroke-width="1.6" stroke-linejoin="miter" stroke-linecap="butt"/>
<line x1="72.50" y1="436.80" x2="72.50" y2="438.50" stroke="#2b4580" stroke-width="1.1"/>
<line x1="84.50" y1="436.80" x2="84.50" y2="438.50" stroke="#2b4580" stroke-width="1.1"/>
<line x1="164.50" y1="513.80" x2="164.50" y2="515.50" stroke="#2b4580" stroke-width="1.1"/>
<line x1="166.50" y1="513.80" x2="166.50" y2="515.50" stroke="#2b4580" stroke-width="1.1"/>
<line x1="173.50" y1="513.80" x2="173.50" y2="515.50" stroke="#2b4580" stroke-width="1.1"/>
<line x1="179.50" y1="526.80" x2="179.50" y2="528.50" stroke="#2b4580" stroke-width="1.1"/>
<line x1="179.50" y1="533.80" x2="179.50" y2="535.50" stroke="#a0102f" stroke-width="1.1"/>
<line x1="129.50" y1="508.80" x2="129.50" y2="510.50" stroke="#a0102f" stroke-width="1.1"/>
</svg>
</body></html>
